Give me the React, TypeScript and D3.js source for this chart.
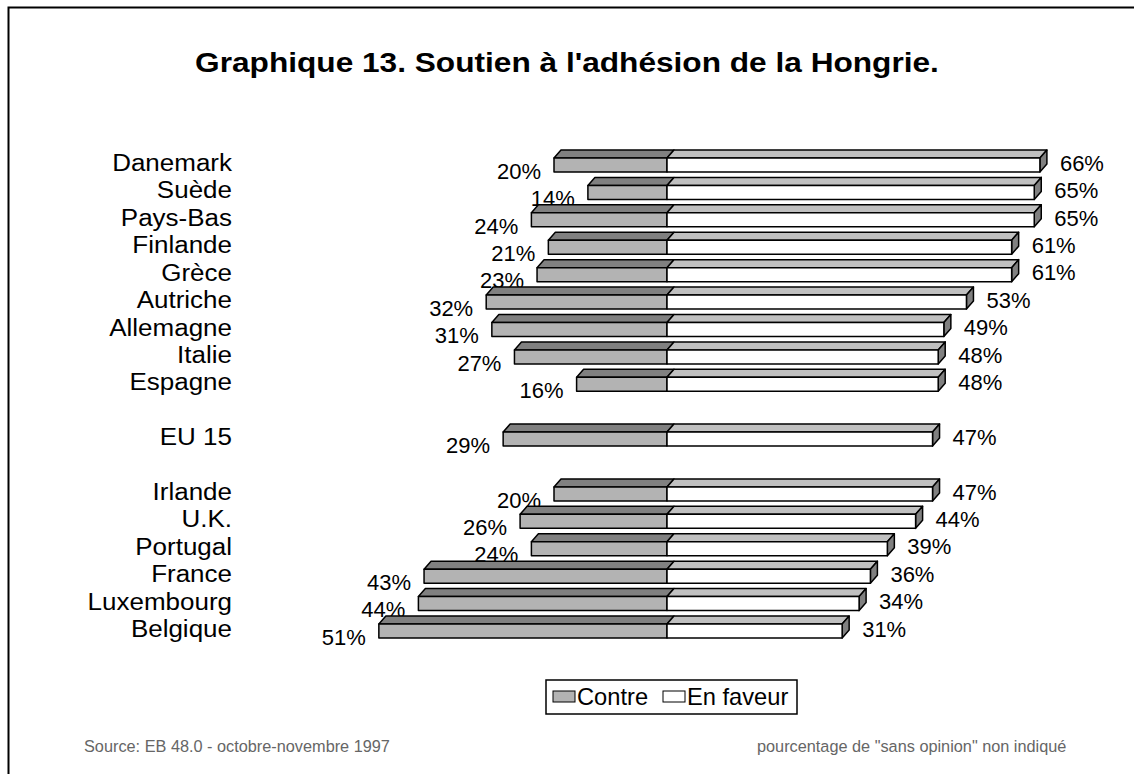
import React, { useEffect, useRef } from "react";
import * as d3 from "d3";

// rows top to bottom; "_gap" rows are blank spacers
const countries = [
  "Danemark", "Suède", "Pays-Bas", "Finlande", "Grèce", "Autriche", "Allemagne",
  "Italie", "Espagne", "_gap1", "EU 15", "_gap2", "Irlande", "U.K.", "Portugal",
  "France", "Luxembourg", "Belgique",
];
const contre = [20, 14, 24, 21, 23, 32, 31, 27, 16, null, 29, null, 20, 26, 24, 43, 44, 51];
const enFaveur = [66, 65, 65, 61, 61, 53, 49, 48, 48, null, 47, null, 47, 44, 39, 36, 34, 31];

const title = "Graphique 13. Soutien à l'adhésion de la Hongrie.";
const source = "Source: EB 48.0 - octobre-novembre 1997";
const note = "pourcentage de \"sans opinion\" non indiqué";

const W = 1134;
const H = 774;
const FONT = "Arial, 'Liberation Sans', sans-serif";

export default function App() {
  const svgRef = useRef<SVGSVGElement>(null);

  useEffect(() => {
    const svg = d3.select(svgRef.current);
    svg.selectAll("*").remove();

    const x = d3.scaleLinear().domain([-60, 70]).range([328, 1062.5]);
    const y = d3.scalePoint<string>().domain(countries).range([165, 631]);
    const bh = 14; // front face height
    const dx = 7, dy = 8; // depth of the 3D effect

    // text slightly stretched horizontally, like the original
    const stretched = (sel: any, tx: number, ty: number, sx: number) =>
      sel.append("text").attr("transform", `translate(${tx},${ty}) scale(${sx},1)`);

    // frame (left + top only visible)
    svg.append("path")
      .attr("d", `M8.5,${H + 5} L8.5,7.5 L${W + 5},7.5`)
      .attr("fill", "none").attr("stroke", "#000").attr("stroke-width", 2);

    stretched(svg, 567, 72, 1.13)
      .attr("text-anchor", "middle")
      .style("font-family", FONT).style("font-weight", "bold").style("font-size", "28px")
      .text(title);

    const rows = countries
      .map((c, i) => ({ c, contre: contre[i], pour: enFaveur[i] }))
      .filter((d) => d.contre != null);

    const g = svg.append("g");
    const x0 = x(0);

    rows.forEach((d) => {
      const yc = y(d.c)!;
      const top = yc - bh / 2;
      const bot = yc + bh / 2;
      const xl = x(-(d.contre as number));
      const xr = x(d.pour as number);
      const row = g.append("g").attr("stroke", "#000").attr("stroke-width", 1.5).attr("stroke-linejoin", "round");

      // contre
      row.append("path")
        .attr("d", `M${xl},${top} L${xl + dx},${top - dy} L${x0 + dx},${top - dy} L${x0},${top} Z`)
        .attr("fill", "#808080");
      row.append("rect")
        .attr("x", xl).attr("y", top).attr("width", x0 - xl).attr("height", bh)
        .attr("fill", "#b3b3b3");

      // en faveur
      row.append("path")
        .attr("d", `M${x0},${top} L${x0 + dx},${top - dy} L${xr + dx},${top - dy} L${xr},${top} Z`)
        .attr("fill", "#c0c0c0");
      row.append("path")
        .attr("d", `M${xr},${top} L${xr + dx},${top - dy} L${xr + dx},${bot - dy} L${xr},${bot} Z`)
        .attr("fill", "#808080");
      row.append("rect")
        .attr("x", x0).attr("y", top).attr("width", xr - x0).attr("height", bh)
        .attr("fill", "#fff");

      // labels
      stretched(g, 232, yc - 2, 1.13)
        .attr("dy", "0.35em")
        .attr("text-anchor", "end")
        .style("font-family", FONT).style("font-size", "23px")
        .text(d.c);
      g.append("text")
        .attr("x", xl - 13).attr("y", yc + 6).attr("dy", "0.35em")
        .attr("text-anchor", "end")
        .style("font-family", FONT).style("font-size", "22px")
        .text(`${d.contre}%`);
      g.append("text")
        .attr("x", xr + 20).attr("y", yc - 2).attr("dy", "0.35em")
        .style("font-family", FONT).style("font-size", "22px")
        .text(`${d.pour}%`);
    });

    // legend
    const leg = svg.append("g").style("font-family", FONT).style("font-size", "23px");
    leg.append("rect").attr("x", 546).attr("y", 680).attr("width", 251).attr("height", 34)
      .attr("fill", "#fff").attr("stroke", "#000").attr("stroke-width", 1.5);
    leg.append("rect").attr("x", 553).attr("y", 691).attr("width", 22).attr("height", 11)
      .attr("fill", "#b3b3b3").attr("stroke", "#000").attr("stroke-width", 1);
    stretched(leg, 577, 697, 1.03).attr("dy", "0.35em").text("Contre");
    leg.append("rect").attr("x", 663).attr("y", 691).attr("width", 22).attr("height", 11)
      .attr("fill", "#fff").attr("stroke", "#000").attr("stroke-width", 1);
    stretched(leg, 687, 697, 1.03).attr("dy", "0.35em").text("En faveur");

    // footer
    const foot = svg.append("g").style("font-family", FONT).style("font-size", "16.3px").attr("fill", "#666");
    foot.append("text").attr("x", 84).attr("y", 752).text(source);
    foot.append("text").attr("x", 757).attr("y", 752).text(note);
  }, []);

  return (
    <div style={{ position: "absolute", left: 0, top: 0 }}>
      <svg ref={svgRef} width={W} height={H} style={{ display: "block", background: "#fff" }} />
    </div>
  );
}
